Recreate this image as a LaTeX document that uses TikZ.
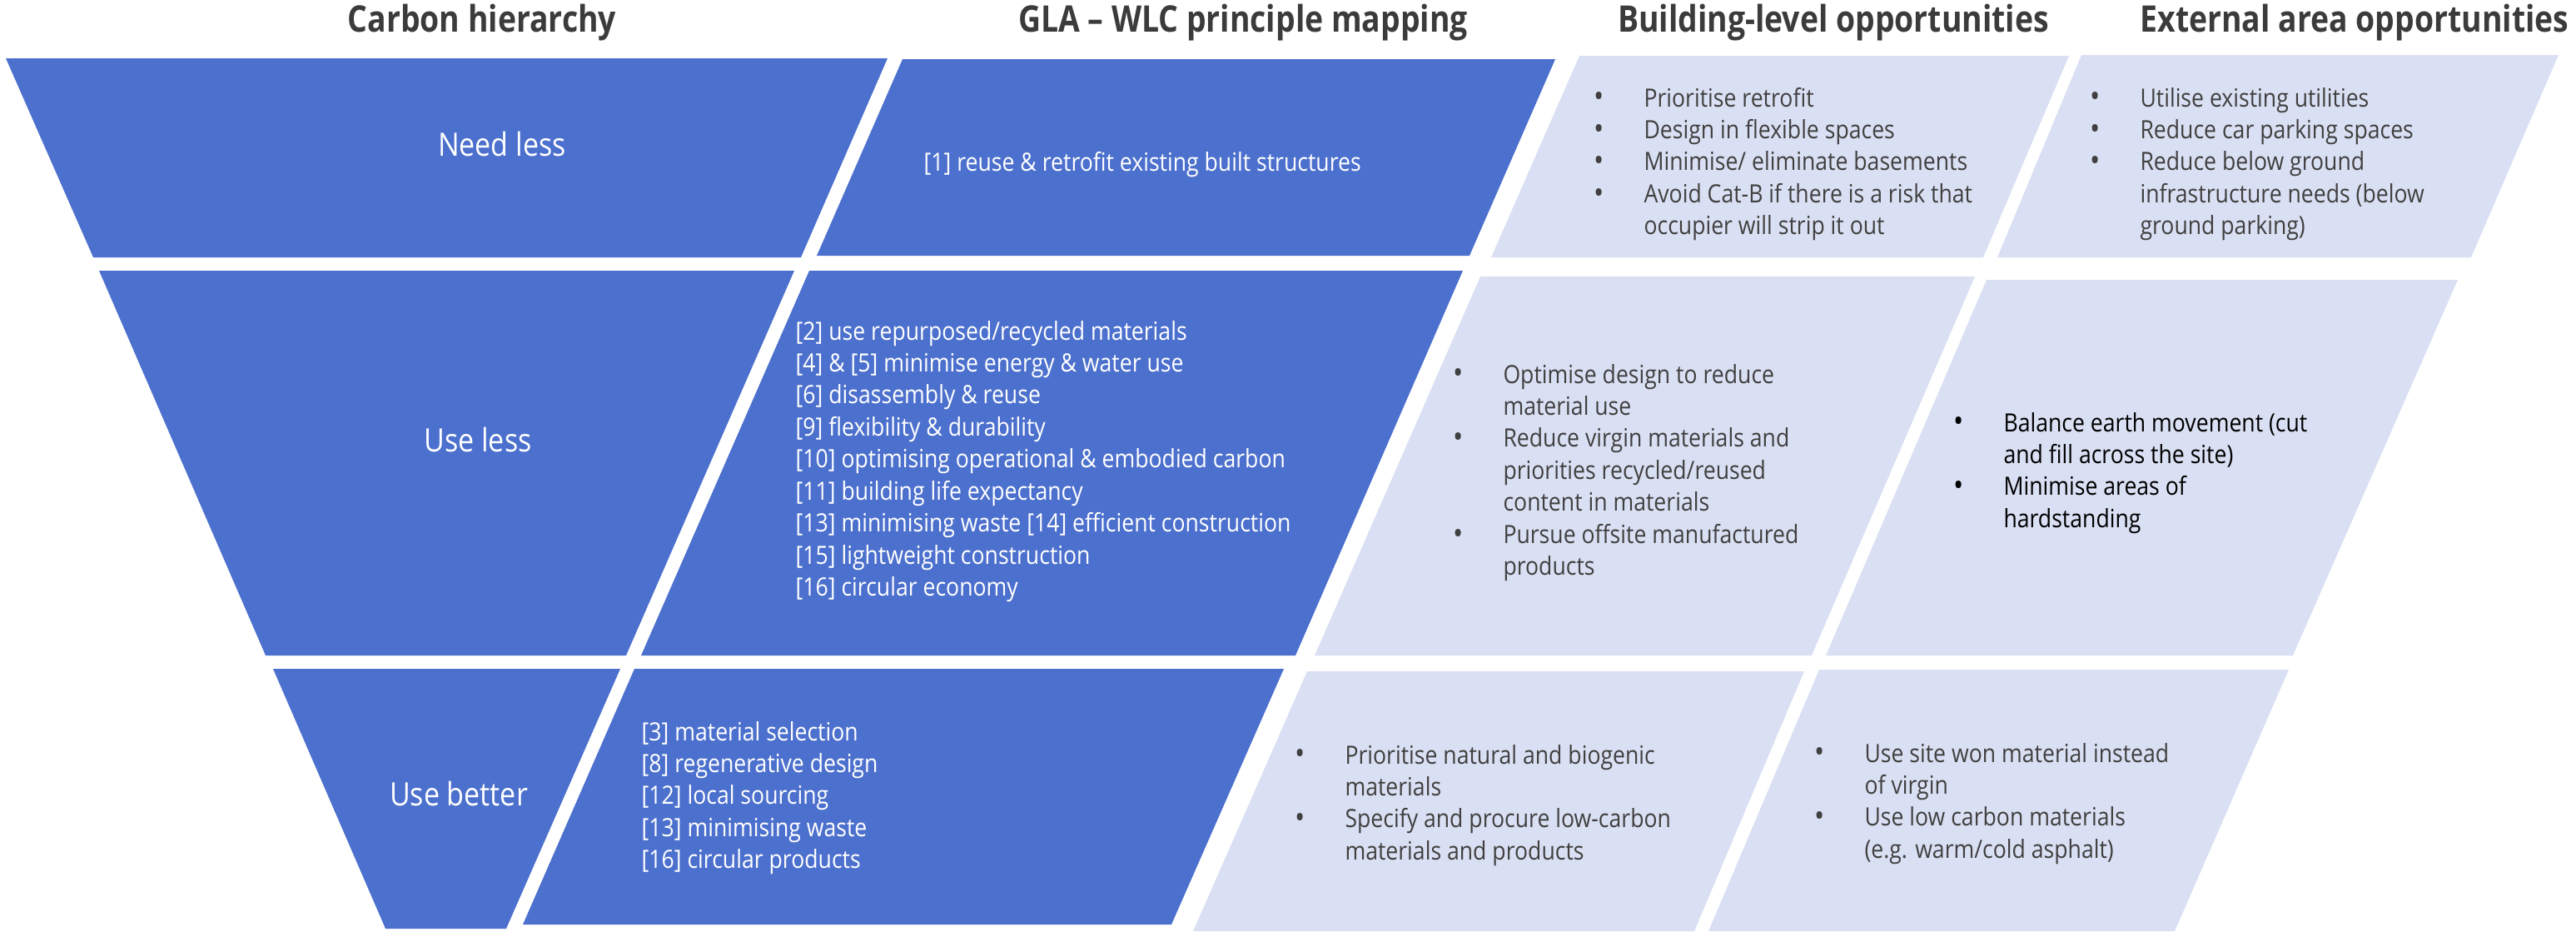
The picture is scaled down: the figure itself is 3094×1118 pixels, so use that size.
\documentclass[tikz,border=0pt]{standalone}
\usepackage{fontspec}
\setmainfont{Open Sans}[FakeStretch=0.88]
\newfontfamily\headfam{Open Sans}[FakeStretch=0.85]

\definecolor{hblue}{RGB}{76,112,205}
\definecolor{hpale}{RGB}{218,224,243}
\definecolor{htext}{RGB}{64,64,64}
\definecolor{hhead}{RGB}{59,59,59}

\newcommand\headfont{\headfam\bfseries\fontsize{12.5}{15}\selectfont}
\newcommand\levelfont{\fontsize{11}{13}\selectfont}
\newcommand\bodyfont{\fontsize{8.6}{10.94}\selectfont}

% bullet column and line blocks (first baseline is the node's base)
\newlength\bind
\setlength\bind{17pt}
\newcommand\bu{\makebox[\bind][l]{\raisebox{-0.2pt}{\fontsize{10.5}{10}\selectfont\textbullet}}}
\newcommand\blist[1]{\begin{tabular}[t]{@{}l@{}l@{}}#1\end{tabular}}
\newcommand\lines[1]{\begin{tabular}[t]{@{}l@{}}#1\end{tabular}}

\begin{document}
\begin{tikzpicture}[x=0.01cm,y=-0.01cm,
  hier/.style={fill=hblue},
  opp/.style={fill=hpale},
  head/.style={anchor=base, text=hhead, font=\headfont, inner sep=0pt},
  level/.style={anchor=base, text=white, font=\levelfont, inner sep=0pt},
  gla/.style={anchor=base west, inner sep=0pt, text=white, font=\bodyfont},
  bul/.style={anchor=base west, inner sep=0pt, text=htext, font=\bodyfont}]

\useasboundingbox (0,0) rectangle (3094,1118);

% column headings
\node[head] (hcarbon) at (579,38) {Carbon hierarchy};
\node[head] (hgla)    at (1493,38) {GLA – WLC principle mapping};
\node[head] (hbuild)  at (2202,38) {Building-level opportunities};
\node[head, anchor=base east] (hext) at (3086,38) {External area opportunities};

% row 1: need less
\fill[hier] (7,70) -- (1066,70) -- (962,309) -- (112,309) -- cycle;
\fill[hier] (1084,71) -- (1868,71) -- (1765,307) -- (981,307) -- cycle;
\fill[opp]  (1897,67) -- (2485,67) -- (2382,309) -- (1791,309) -- cycle;
\fill[opp]  (2500,66) -- (3073,66) -- (2968,309) -- (2399,309) -- cycle;

% row 2: use less
\fill[hier] (119,325) -- (954,325) -- (752,787) -- (319,787) -- cycle;
\fill[hier] (972,325) -- (1757,325) -- (1556,787) -- (770,787) -- cycle;
\fill[opp]  (1778,332) -- (2372,332) -- (2176,787) -- (1579,787) -- cycle;
\fill[opp]  (2386,336) -- (2952,336) -- (2754,787) -- (2193,787) -- cycle;

% row 3: use better
\fill[hier] (328,803) -- (745,803) -- (608,1115) -- (463,1115) -- cycle;
\fill[hier] (762,803) -- (1542,803) -- (1407,1110) -- (628,1110) -- cycle;
\fill[opp]  (1570,806) -- (2167,806) -- (2035,1118) -- (1433,1118) -- cycle;
\fill[opp]  (2185,804) -- (2749,804) -- (2612,1118) -- (2052,1118) -- cycle;

% hierarchy levels
\node[level] (needless)  at (603,187) {Need less};
\node[level] (useless)   at (574,542) {Use less};
\node[level] (usebetter) at (551,967) {Use better};

% GLA principles
\node[gla] (gla1) at (1109,205) {[1] reuse \& retrofit existing built structures};
\node[gla] (gla2) at (955,408) {\lines{[2] use repurposed/recycled materials\\{}%
[4] \& [5] minimise energy \& water use\\{}%
[6] disassembly \& reuse\\{}%
[9] flexibility \& durability\\{}%
[10] optimising operational \& embodied carbon\\{}%
[11] building life expectancy\\{}%
[13] minimising waste [14] efficient construction\\{}%
[15] lightweight construction\\{}%
[16] circular economy}};
\node[gla] (gla3) at (770,889) {\lines{[3] material selection\\{}%
[8] regenerative design\\{}%
[12] local sourcing\\{}%
[13] minimising waste\\{}%
[16] circular products}};

% building-level opportunities
\node[bul] (bld1) at (1914,128) {\blist{\bu & Prioritise retrofit\\
\bu & Design in flexible spaces\\
\bu & Minimise/ eliminate basements\\
\bu & Avoid Cat-B if there is a risk that\\
    & occupier will strip it out}};
\node[bul] (bld2) at (1745,460) {\blist{\bu & Optimise design to reduce\\
    & material use\\
\bu & Reduce virgin materials and\\
    & priorities recycled/reused\\
    & content in materials\\
\bu & Pursue offsite manufactured\\
    & products}};
\node[bul] (bld3) at (1555,917) {\blist{\bu & Prioritise natural and biogenic\\
    & materials\\
\bu & Specify and procure low-carbon\\
    & materials and products}};

% external area opportunities
\node[bul] (ext1) at (2510,128) {\blist{\bu & Utilise existing utilities\\
\bu & Reduce car parking spaces\\
\bu & Reduce below ground\\
    & infrastructure needs (below\\
    & ground parking)}};
\node[bul, text=black] (ext2) at (2346,518) {\blist{\bu & Balance earth movement (cut\\
    & and fill across the site)\\
\bu & Minimise areas of\\
    & hardstanding}};
\node[bul] (ext3) at (2179,915) {\blist{\bu & Use site won material instead\\
    & of virgin\\
\bu & Use low carbon materials\\
    & (e.g. warm/cold asphalt)}};

\end{tikzpicture}
\end{document}
